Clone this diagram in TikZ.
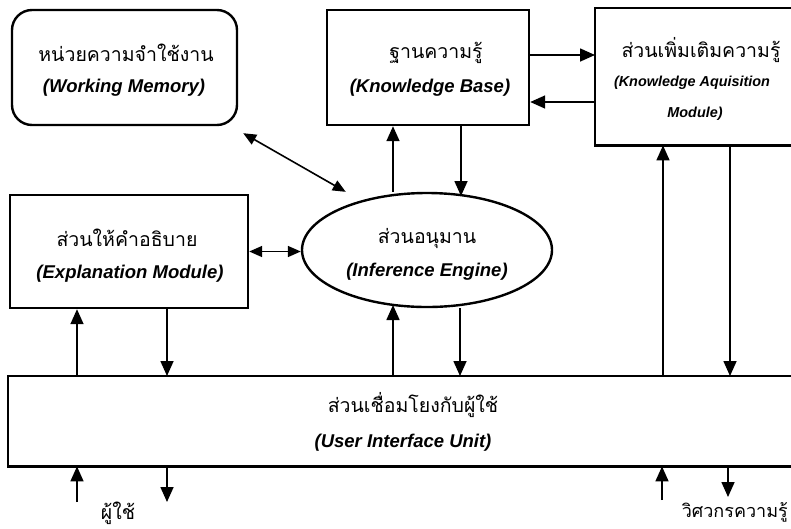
\documentclass[tikz,border=0pt]{standalone}
\usepackage{fontspec}
\newfontfamily\thaifont[Script=Thai]{Loma}
\newfontfamily\engfont{Liberation Sans}
\usetikzlibrary{arrows.meta,shapes.geometric}
\begin{document}
\begin{tikzpicture}[x=1pt,y=-1pt,
  frame/.style={draw, line width=2.4pt, inner sep=0pt},
  link/.style={line width=1.6pt, -{Triangle[length=15pt,width=13pt]}},
  twoway/.style={line width=1.6pt, {Triangle[length=13pt,width=11pt]}-{Triangle[length=13pt,width=11pt]}},
  th/.style={font=\thaifont\fontsize{19.5}{22}\selectfont, inner sep=0pt},
  en/.style={font=\engfont\bfseries\itshape\fontsize{18.5}{21}\selectfont, inner sep=0pt},
  ensmall/.style={font=\engfont\bfseries\itshape\fontsize{14.4}{16}\selectfont, inner sep=0pt}]
\useasboundingbox (0,0) rectangle (791,528);
\fill[white] (0,0) rectangle (791,528);

% working memory
\node[frame, rounded corners=20pt, minimum width=225pt, minimum height=115pt] (wm) at (124.5,67.5) {};
\node[th] (wmth) at (126,53) {หน่วยความจำใช้งาน};
\node[en] (wmen) at (124,88) {(Working Memory)};

% knowledge base
\node[frame, minimum width=202pt, minimum height=115pt] (kb) at (428,67.5) {};
\node[th] (kbth) at (436,53) {ฐานความรู้};
\node[en] (kben) at (430,88) {(Knowledge Base)};

% knowledge acquisition module, open on the right
\node[inner sep=0pt, minimum width=196pt, minimum height=137pt, anchor=north west] (kam) at (595,8) {};
\draw[line width=2.4pt] (kam.north east) -- (kam.north west) -- (kam.south west) -- (kam.south east);
\node[th] (kamth) at (701,50) {ส่วนเพิ่มเติมความรู้};
\node[ensmall] (kamen) at (692,83) {(Knowledge Aquisition};
\node[ensmall] (kamen2) at (695,114) {Module)};

% explanation module
\node[frame, minimum width=238pt, minimum height=113pt] (ex) at (129,251.5) {};
\node[th] (exth) at (127,238) {ส่วนให้คำอธิบาย};
\node[en] (exen) at (130,274) {(Explanation Module)};

% inference engine
\node[frame, ellipse, minimum width=250pt, minimum height=114pt] (inf) at (427,250) {};
\node[th] (infth) at (427,238) {ส่วนอนุมาน};
\node[en] (infen) at (427,272) {(Inference Engine)};

% user interface unit, open on the right
\node[inner sep=0pt, minimum width=783pt, minimum height=90pt, anchor=north west] (ui) at (8,376) {};
\draw[line width=2.4pt] (ui.north east) -- (ui.north west) -- (ui.south west) -- (ui.south east);
\node[th] (uith) at (413,405) {ส่วนเชื่อมโยงกับผู้ใช้};
\node[en] (uien) at (403,443) {(User Interface Unit)};

% connectors between the parts
\draw[link] (kb.east |- 0,55) -- (kam.west |- 0,55);
\draw[link] (kam.west |- 0,102) -- (kb.east |- 0,102);
\draw[twoway] ([shift={(5pt,-7pt)}]wm.south east) -- ([shift={(8pt,17pt)}]inf.north west);
\draw[link] (393,0 |- inf.north) -- (393,0 |- kb.south);
\draw[link] (461,0 |- kb.south) -- (461,196);
\draw[twoway] (ex.east) -- (ex.east -| inf.west);
\draw[link] (77,0 |- ui.north) -- (77,0 |- ex.south);
\draw[link] (167,0 |- ex.south) -- (167,0 |- ui.north);
\draw[link] (393,0 |- ui.north) -- (393,305);
\draw[link] (460,0 |- inf.south) -- (460,0 |- ui.north);
\draw[link] (663,0 |- ui.north) -- (663,0 |- kam.south);
\draw[link] (730,0 |- kam.south) -- (730,0 |- ui.north);

% users below the interface
\coordinate (userin) at (77,502);
\coordinate (userout) at (167,502);
\coordinate (engin) at (662,500);
\coordinate (engout) at (728,497);
\draw[link] (userin) -- (userin |- ui.south);
\draw[link] (userout |- ui.south) -- (userout);
\draw[link] (engin) -- (engin |- ui.south);
\draw[link] (engout |- ui.south) -- (engout);
\node[th] (user) at (118,513) {ผู้ใช้};
\node[th, font=\thaifont\fontsize{18}{20}\selectfont, anchor=east] (eng) at (788,512) {วิศวกรความรู้};
\end{tikzpicture}
\end{document}
